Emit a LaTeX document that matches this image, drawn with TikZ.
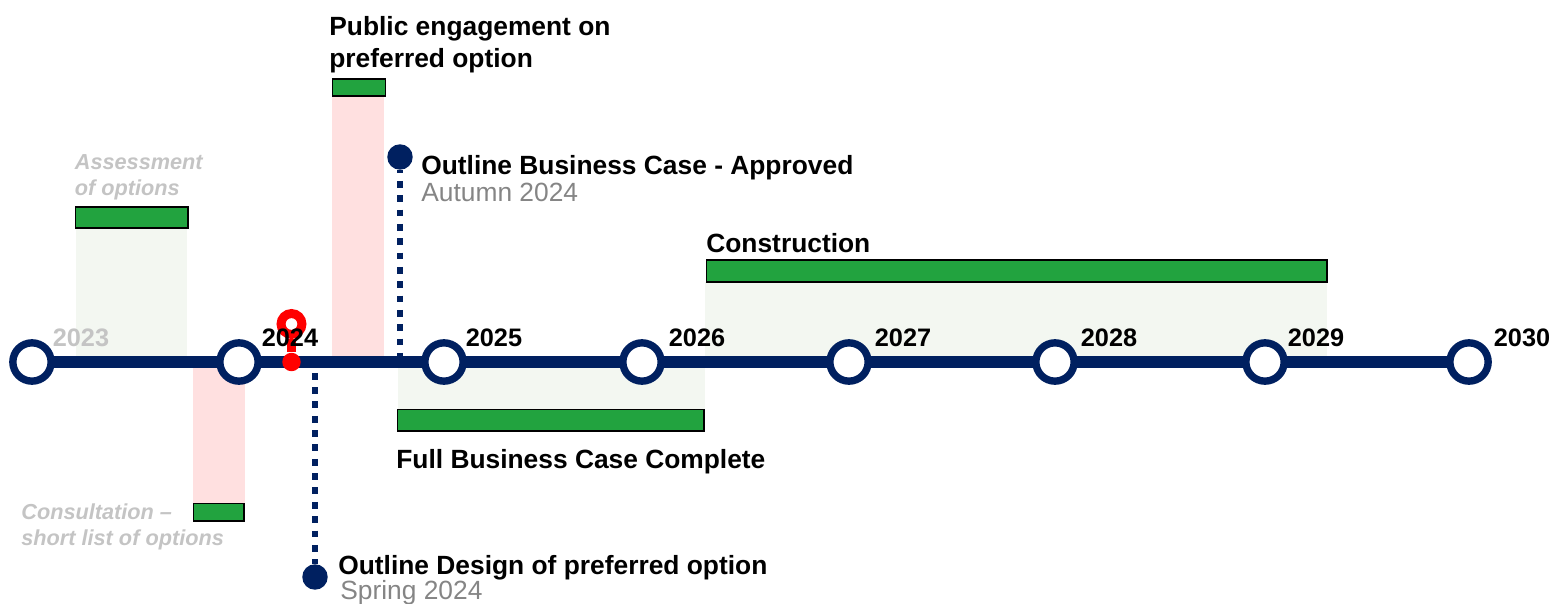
\documentclass[tikz,border=0pt]{standalone}
\usepackage{fontspec}
\setmainfont{Liberation Sans}
\usepackage{tikz}
\usetikzlibrary{positioning}
\definecolor{navy}{HTML}{002060}
\definecolor{barGreen}{HTML}{22A33F}
\definecolor{paleGreen}{HTML}{F3F7F1}
\definecolor{palePink}{HTML}{FFE0E0}
\definecolor{fadeGrey}{HTML}{C4C4C4}
\definecolor{dateGrey}{HTML}{858585}
\tikzset{
    year/.style={circle, draw=navy, fill=white, line width=4.2pt, minimum size=21.8pt, inner sep=0pt},
    yearlabel/.style={font=\fontsize{14.4}{16}\selectfont\bfseries, inner sep=0pt},
    bar/.style={draw=black, fill=barGreen, line width=1.1pt, inner sep=0pt, anchor=north west},
    milestone/.style={circle, fill=navy, minimum size=14.5pt, inner sep=0pt},
    title/.style={font=\fontsize{15}{18.1}\selectfont\bfseries, inner sep=0pt, anchor=west, align=left},
    faded/.style={font=\fontsize{12.35}{14.8}\selectfont\bfseries\itshape, text=fadeGrey, inner sep=0pt, anchor=west, align=left},
    date/.style={font=\fontsize{15}{16}\selectfont, text=dateGrey, inner sep=0pt, anchor=west},
    dotline/.style={draw=navy, line width=3.9pt, dash pattern=on 3.9pt off 4.26pt},
    axis/.style={navy, line width=6.8pt, shorten <=-2pt, shorten >=-2pt}
}
\begin{document}
\begin{tikzpicture}[x=0.02cm, y=-0.02cm]
    \useasboundingbox (0,0) rectangle (1551,604);

    % Pale bands
    \fill[paleGreen] (76,228) rectangle (187,362);
    \fill[paleGreen] (398,362) rectangle (705,409);
    \fill[paleGreen] (705,282) rectangle (1327,362);
    \fill[palePink] (193,362) rectangle (245,503);
    \fill[palePink] (332,96) rectangle (384,362);

    % Milestones
    \node[milestone] (obc) at (400,157) {};
    \node[milestone] (od) at (315,577) {};
    \coordinate (obcfoot) at (400,362);
    \coordinate (odtop) at (315,372.8);
    \draw[dotline, dash phase=2pt] (obc) -- (obcfoot);
    \draw[dotline] (odtop) -- (od);

    % Define nodes
    \node[year] (y2023) at (32,362) {};
    \node[year] (y2024) at (239,362) {};
    \node[year] (y2025) at (444,362) {};
    \node[year] (y2026) at (642,362) {};
    \node[year] (y2027) at (849,362) {};
    \node[year] (y2028) at (1055,362) {};
    \node[year] (y2029) at (1265,362) {};
    \node[year] (y2030) at (1469,362) {};

    % Draw line
    \draw[axis] (y2023) -- (y2024);
    \draw[axis] (y2024) -- (y2025);
    \draw[axis] (y2025) -- (y2026);
    \draw[axis] (y2026) -- (y2027);
    \draw[axis] (y2027) -- (y2028);
    \draw[axis] (y2028) -- (y2029);
    \draw[axis] (y2029) -- (y2030);

    % Today marker
    \node[circle, fill=red, minimum size=10.5pt, inner sep=0pt] (nowdot) at (291.5,362) {};
    \node[circle, draw=red, fill=white, line width=5.1pt, minimum size=11.9pt, inner sep=0pt] (nowring) at (291.5,324) {};
    \draw[red, line width=5.5pt] (nowring) -- (nowdot);

    % Year labels
    \node[yearlabel, text=fadeGrey] (l2023) at (81,338) {2023};
    \node[yearlabel] (l2024) at (290,338) {2024};
    \node[yearlabel] (l2025) at (494,338) {2025};
    \node[yearlabel] (l2026) at (697,338) {2026};
    \node[yearlabel] (l2027) at (903,338) {2027};
    \node[yearlabel] (l2028) at (1109,338) {2028};
    \node[yearlabel] (l2029) at (1316,338) {2029};
    \node[yearlabel] (l2030) at (1522,338) {2030};

    % Bars
    \node[bar, minimum width=64pt, minimum height=11.5pt] (assess) at (74.5,206.5) {};
    \node[bar, minimum width=29pt, minimum height=10pt] (consult) at (192.5,502.5) {};
    \node[bar, minimum width=30.2pt, minimum height=9.5pt] (engage) at (331.5,78.5) {};
    \node[bar, minimum width=174.5pt, minimum height=12pt] (fbc) at (396.5,408.5) {};
    \node[bar, minimum width=353pt, minimum height=12pt] (build) at (705.5,259.5) {};

    % Labels
    \node[faded] (assesstxt) at (74.5,177) {Assessment\\of options};
    \node[faded] (consulttxt) at (21,527) {Consultation --\\short list of options};
    \node[title] (engagetxt) at (329,45) {Public engagement on\\preferred option};
    \node[title] (fbctxt) at (396,461.5) {Full Business Case Complete};
    \node[title] (buildtxt) at (706,243) {Construction};
    \node[title] (obctxt) at (421,167.5) {Outline Business Case - Approved};
    \node[date] (obcdate) at (421,192) {Autumn 2024};
    \node[title] (odtxt) at (338,568) {Outline Design of preferred option};
    \node[date] (oddate) at (340,593) {Spring 2024};
\end{tikzpicture}
\end{document}
